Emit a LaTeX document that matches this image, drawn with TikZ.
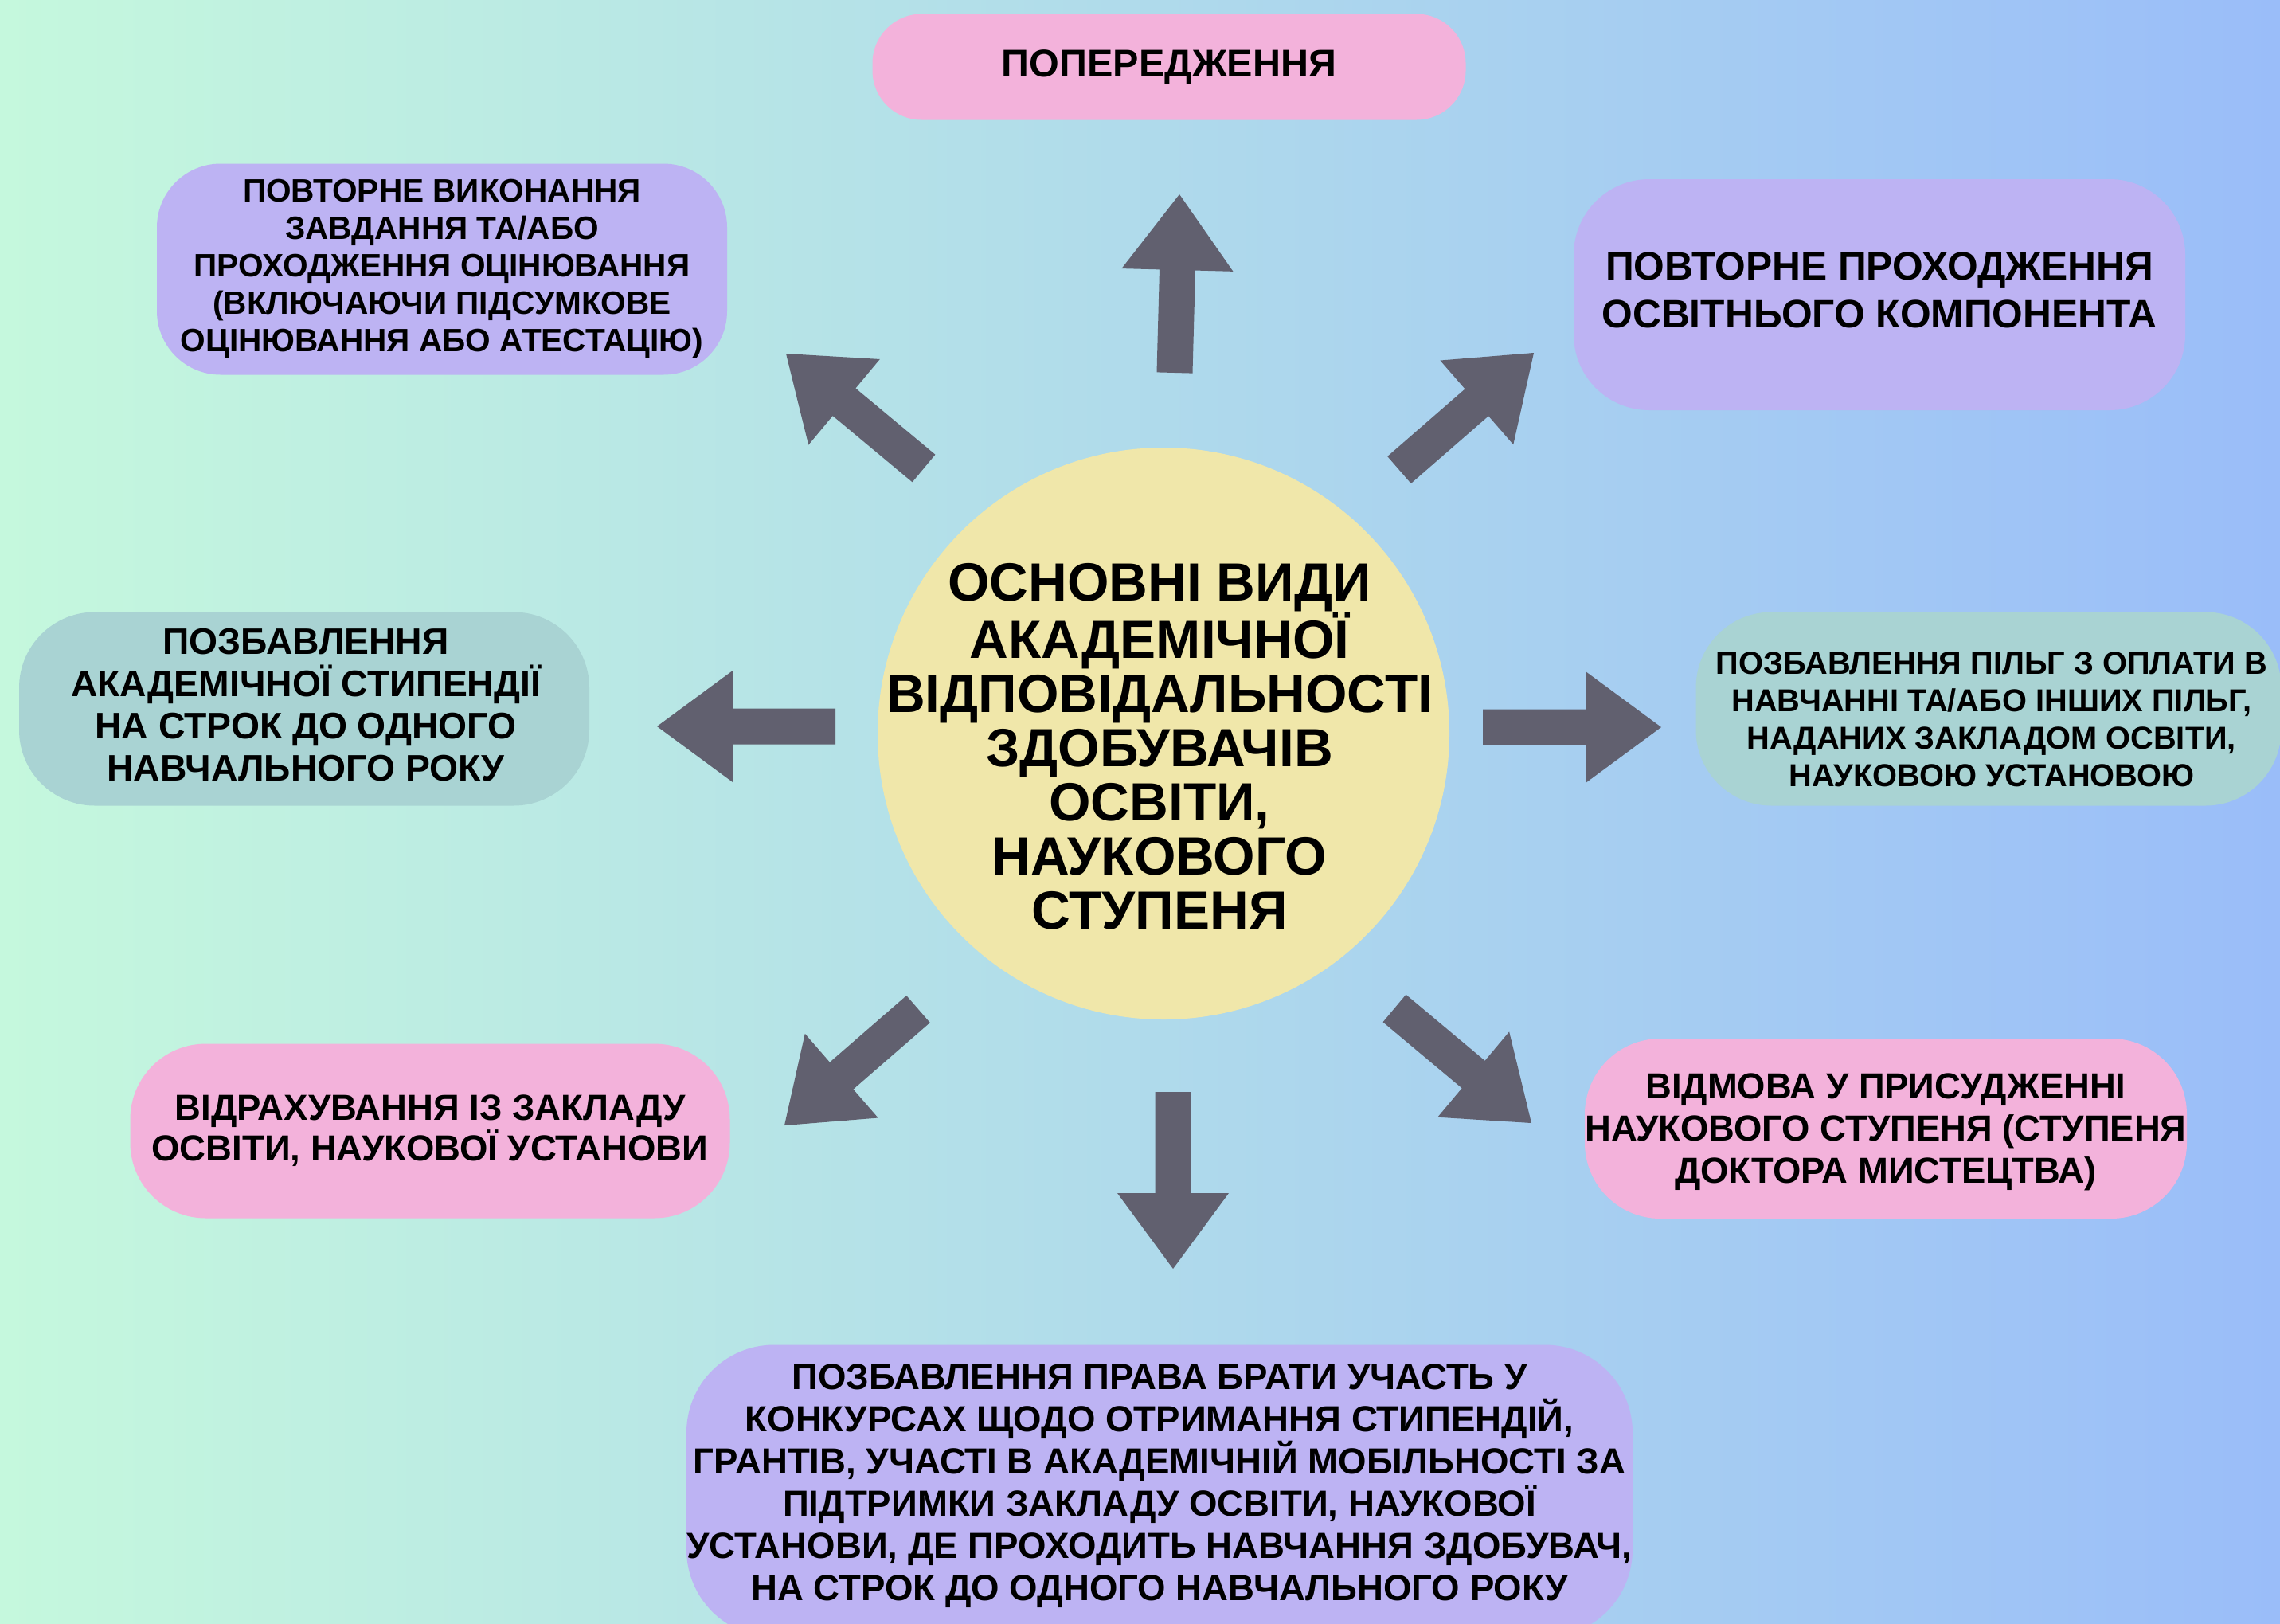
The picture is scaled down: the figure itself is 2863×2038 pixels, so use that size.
\documentclass[tikz,border=0pt]{standalone}
\usepackage{fontspec}
\setmainfont{Liberation Sans}
\usetikzlibrary{calc}
\definecolor{bgL}{RGB}{197,248,221}
\definecolor{bgR}{RGB}{154,189,249}
\definecolor{pinkc}{RGB}{243,178,219}
\definecolor{purpc}{RGB}{189,179,243}
\definecolor{tealc}{RGB}{169,211,211}
\definecolor{yelc}{RGB}{240,231,170}
\definecolor{arrc}{RGB}{97,96,111}
% block arrow: #1 tail coordinate, #2 tip coordinate, #3 name prefix
\newcommand\blockarrow[3]{%
  \coordinate (#3b) at ($(#2)!95pt!(#1)$);
  \fill[arrowfill]
    ($(#1)!22.5pt!90:(#2)$) -- ($(#3b)!22.5pt!-90:(#1)$) --
    ($(#3b)!70pt!-90:(#1)$) -- (#2) -- ($(#3b)!70pt!90:(#1)$) --
    ($(#3b)!22.5pt!90:(#1)$) -- ($(#1)!22.5pt!-90:(#2)$) -- cycle;
}
\begin{document}
\begin{tikzpicture}[x=1pt,y=-1pt,
  arrowfill/.style={fill=arrc},
  box/.style={rectangle, inner sep=0pt, align=center, text=black},
  fs/.style 2 args={font=\fontsize{#1pt}{#2pt}\selectfont\bfseries}]
\useasboundingbox (0,0) rectangle (2863,2038);
\clip (0,0) rectangle (2863,2038);
\shade[left color=bgL, right color=bgR] (0,0) rectangle (2863,2038);

% centre
\node[circle, fill=yelc, minimum size=718pt, inner sep=0pt] (circ) at (1461,921) {};
\node[box, fs={67.5}{68}] (ctext) at (1456,937)
  {ОСНОВНІ ВИДИ\\АКАДЕМІЧНОЇ\\ВІДПОВІДАЛЬНОСТІ\\ЗДОБУВАЧІВ\\ОСВІТИ,\\НАУКОВОГО\\СТУПЕНЯ};

% boxes
\node[box, fill=pinkc, minimum width=745pt, minimum height=133pt, rounded corners=62pt, fs={48.5}{56}]
  (b1) at (1468,84) {ПОПЕРЕДЖЕННЯ};
\node[box, fill=purpc, minimum width=716pt, minimum height=265pt, rounded corners=80pt, fs={40.6}{47}]
  (b2) at (555,338) {ПОВТОРНЕ ВИКОНАННЯ\\ЗАВДАННЯ ТА/АБО\\ПРОХОДЖЕННЯ ОЦІНЮВАННЯ\\(ВКЛЮЧАЮЧИ ПІДСУМКОВЕ\\ОЦІНЮВАННЯ АБО АТЕСТАЦІЮ)};
\node[box, fill=purpc, minimum width=768pt, minimum height=290pt, rounded corners=95pt]
  (b3) at (2360,370) {};
\node[box, fs={49.7}{60}] (b3t) at (2360,364) {ПОВТОРНЕ ПРОХОДЖЕННЯ\\ОСВІТНЬОГО КОМПОНЕНТА};
\node[box, fill=tealc, minimum width=716pt, minimum height=243pt, rounded corners=95pt]
  (b4) at (382,890) {};
\node[box, fs={46.3}{53}] (b4t) at (384,885) {ПОЗБАВЛЕННЯ\\АКАДЕМІЧНОЇ СТИПЕНДІЇ\\НА СТРОК ДО ОДНОГО\\НАВЧАЛЬНОГО РОКУ};
\node[box, fill=tealc, minimum width=735pt, minimum height=243pt, rounded corners=95pt]
  (b5) at (2497,890) {};
\node[box, fs={39.8}{47}] (b5t) at (2501,903) {ПОЗБАВЛЕННЯ ПІЛЬГ З ОПЛАТИ В\\НАВЧАННІ ТА/АБО ІНШИХ ПІЛЬГ,\\НАДАНИХ ЗАКЛАДОМ ОСВІТИ,\\НАУКОВОЮ УСТАНОВОЮ};
\node[box, fill=pinkc, minimum width=753pt, minimum height=219pt, rounded corners=95pt, fs={45.5}{51}]
  (b6) at (540,1420) {ВІДРАХУВАННЯ ІЗ ЗАКЛАДУ\\ОСВІТИ, НАУКОВОЇ УСТАНОВИ};
\node[box, fill=pinkc, minimum width=756pt, minimum height=226pt, rounded corners=95pt]
  (b7) at (2368,1417) {};
\node[box, fs={45.4}{53}] (b7t) at (2368,1421) {ВІДМОВА У ПРИСУДЖЕННІ\\НАУКОВОГО СТУПЕНЯ (СТУПЕНЯ\\ДОКТОРА МИСТЕЦТВА)};
\node[box, fill=purpc, minimum width=1188pt, minimum height=367pt, rounded corners=110pt]
  (b8) at (1456,1872) {};
\node[box, fs={45.6}{53}] (b8t) at (1456,1866) {ПОЗБАВЛЕННЯ ПРАВА БРАТИ УЧАСТЬ У\\КОНКУРСАХ ЩОДО ОТРИМАННЯ СТИПЕНДІЙ,\\ГРАНТІВ, УЧАСТІ В АКАДЕМІЧНІЙ МОБІЛЬНОСТІ ЗА\\ПІДТРИМКИ ЗАКЛАДУ ОСВІТИ, НАУКОВОЇ\\УСТАНОВИ, ДЕ ПРОХОДИТЬ НАВЧАННЯ ЗДОБУВАЧ,\\НА СТРОК ДО ОДНОГО НАВЧАЛЬНОГО РОКУ};

% arrows
\coordinate (a1t) at (1475,468);  \coordinate (a1h) at (1481,244);
\coordinate (a2t) at (1160,588);  \coordinate (a2h) at (987,444);
\coordinate (a3t) at (1757,590);  \coordinate (a3h) at (1926,443);
\coordinate (a4t) at (1049,912);  \coordinate (a4h) at (825,912);
\coordinate (a5t) at (1862,913);  \coordinate (a5h) at (2086,913);
\coordinate (a6t) at (1153,1267); \coordinate (a6h) at (985,1413);
\coordinate (a7t) at (1473,1371); \coordinate (a7h) at (1473,1593);
\coordinate (a8t) at (1751,1266); \coordinate (a8h) at (1923,1410);
\blockarrow{a1t}{a1h}{a1}
\blockarrow{a2t}{a2h}{a2}
\blockarrow{a3t}{a3h}{a3}
\blockarrow{a4t}{a4h}{a4}
\blockarrow{a5t}{a5h}{a5}
\blockarrow{a6t}{a6h}{a6}
\blockarrow{a7t}{a7h}{a7}
\blockarrow{a8t}{a8h}{a8}
\end{tikzpicture}
\end{document}
